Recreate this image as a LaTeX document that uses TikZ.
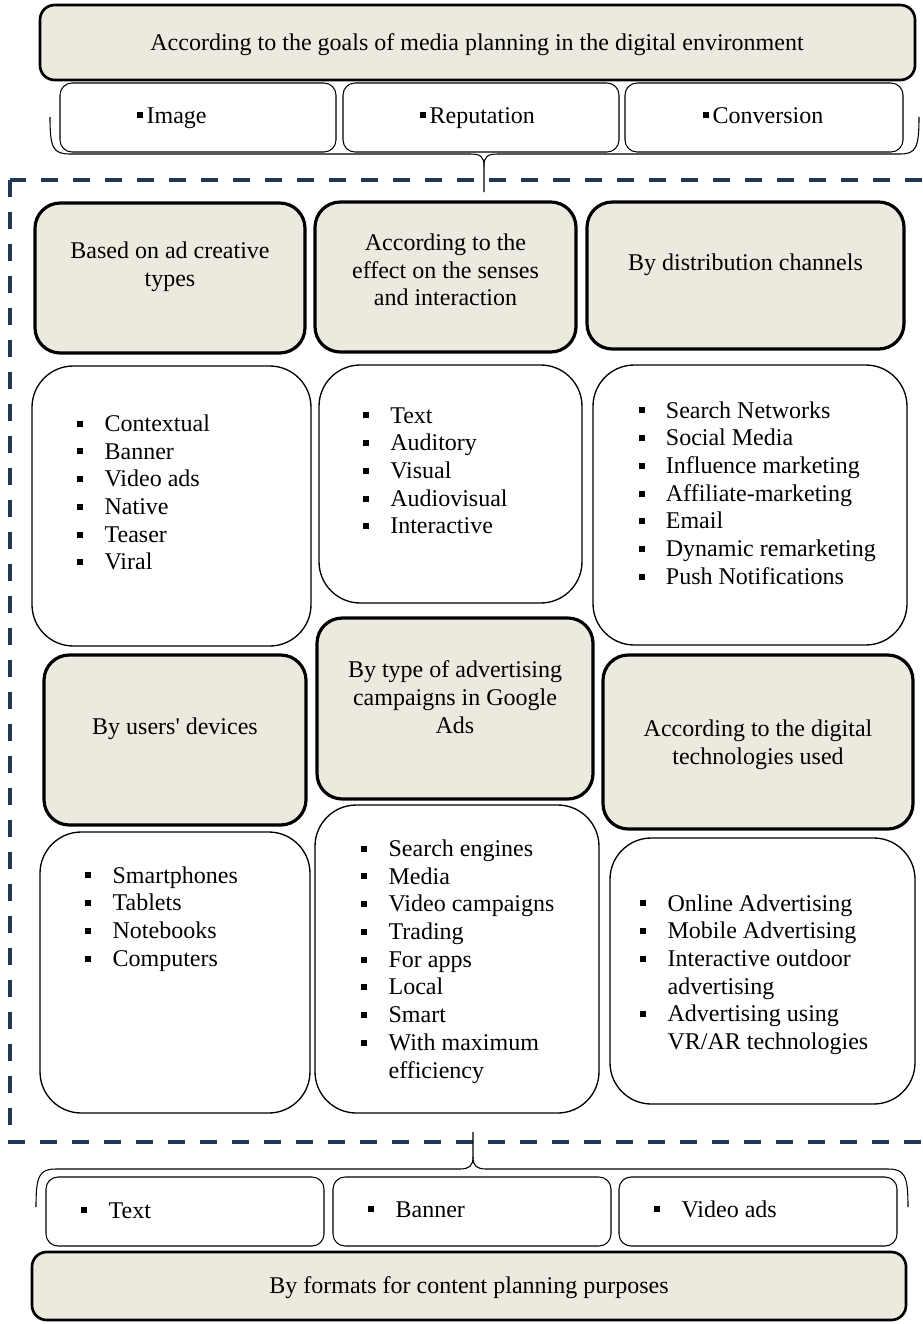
\documentclass[tikz,border=0pt]{standalone}
\usepackage{fontspec}
\setmainfont{Liberation Serif}[Ligatures=TeXOff]
\definecolor{headfill}{RGB}{236,233,223}
\definecolor{dashblue}{RGB}{31,56,86}
\newcommand{\bul}{\makebox[20.5pt][l]{\rule[3.5pt]{4.5pt}{4.5pt}}}
\newcommand{\ind}{\makebox[20.5pt]{}}
\newcommand{\sbul}{\rule[3.5pt]{4.5pt}{4.5pt}\hspace{2.5pt}}
\newcommand{\mkbox}[6]{\node[#2, minimum width={(#5-#3)*0.75pt}, minimum height={(#6-#4)*0.75pt}] (#1) at ({(#3+#5)/2},{(#4+#6)/2}) {};}
\begin{document}
\begin{tikzpicture}[x=0.75pt,y=-0.75pt, font=\fontsize{18}{20.8}\selectfont,
 bigbox/.style={draw, line width=2pt, fill=headfill, rounded corners=11pt, inner sep=0pt},
 headbox/.style={draw, line width=2.4pt, fill=headfill, rounded corners=19pt, inner sep=0pt},
 listbox/.style={draw, line width=1pt, fill=white, rounded corners=31pt, inner sep=0pt},
 subbox/.style={draw, line width=0.8pt, fill=white, rounded corners=9pt, inner sep=0pt},
 headtext/.style={align=center, inner sep=0pt},
 listtext/.style={align=left, anchor=north west, inner sep=0pt},
 itemtext/.style={anchor=base west, inner sep=0pt},
 titletext/.style={anchor=base, inner sep=0pt},
 brace/.style={line width=0.8pt},
 frame/.style={draw=dashblue, line width=3pt, dash pattern=on 12.5pt off 11.5pt}]
\useasboundingbox (0,0) rectangle (923,1324);
\begin{scope}
\clip (0,0) rectangle (923,1324);
\draw[frame] (10,180) rectangle (960,1142);
\end{scope}
% top block
\mkbox{top}{bigbox}{40}{5}{915}{80}
\node[titletext] (toptext) at (477,50) {According to the goals of media planning in the digital environment};
\mkbox{img}{subbox}{60}{83}{336}{152}
\mkbox{rep}{subbox}{343}{83}{619}{152}
\mkbox{conv}{subbox}{625}{83}{903}{152}
\node[itemtext] (imgt) at (137,123) {\sbul Image};
\node[itemtext] (rept) at (420,123) {\sbul Reputation};
\node[itemtext] (convt) at (703,123) {\sbul Conversion};
% top brace
\coordinate (tbtip) at (484,192);
\draw[brace] (50,117) .. controls (50,148) and (53,154) .. (70,154) -- (470,154) .. controls (480,154) and (484,156) .. (484,166) -- (tbtip);
\draw[brace] (919,117) .. controls (919,148) and (916,154) .. (900,154) -- (498,154) .. controls (488,154) and (484,156) .. (484,166);
% row 1 headings
\mkbox{h1}{headbox}{35}{203}{305}{353}
\mkbox{h2}{headbox}{315}{202}{576}{352}
\mkbox{h3}{headbox}{587}{202}{904}{349}
\node[headtext] (h1t) at (170,266.6) {Based on ad creative\\types};
\node[headtext] (h2t) at (445.5,270) {According to the\\effect on the senses\\and interaction};
\node[headtext] (h3t) at (745.5,264.3) {By distribution channels};
% row 1 lists
\mkbox{l1}{listbox}{32}{366}{311}{646}
\mkbox{l2}{listbox}{319}{365}{582}{603}
\mkbox{l3}{listbox}{593}{365}{907}{645}
\node[listtext] (l1t) at (77,413.7) {\rule{0pt}{13pt}\bul Contextual\\\bul Banner\\\bul Video ads\\\bul Native\\\bul Teaser\\\bul Viral};
\node[listtext] (l2t) at (362.7,405.4) {\rule{0pt}{13pt}\bul Text\\\bul Auditory\\\bul Visual\\\bul Audiovisual\\\bul Interactive};
\node[listtext] (l3t) at (638.3,400.4) {\rule{0pt}{13pt}\bul Search Networks\\\bul Social Media\\\bul Influence marketing\\\bul Affiliate-marketing\\\bul Email\\\bul Dynamic remarketing\\\bul Push Notifications};
% row 2 headings
\mkbox{h4}{headbox}{44}{655}{306}{825}
\mkbox{h5}{headbox}{317}{618}{593}{799}
\mkbox{h6}{headbox}{603}{655}{913}{829}
\node[headtext] (h4t) at (175,728.3) {By users' devices};
\node[headtext] (h5t) at (455,697.3) {By type of advertising\\campaigns in Google\\Ads};
\node[headtext] (h6t) at (758,744.6) {According to the digital\\technologies used};
% row 2 lists
\mkbox{l4}{listbox}{40}{832}{310}{1113}
\mkbox{l5}{listbox}{315}{805}{599}{1113}
\mkbox{l6}{listbox}{610}{838}{915}{1104}
\node[listtext] (l4t) at (85,865.4) {\rule{0pt}{13pt}\bul Smartphones\\\bul Tablets\\\bul Notebooks\\\bul Computers};
\node[listtext] (l5t) at (361,838.7) {\rule{0pt}{13pt}\bul Search engines\\\bul Media\\\bul Video campaigns\\\bul Trading\\\bul For apps\\\bul Local\\\bul Smart\\\bul With maximum\\\ind efficiency};
\node[listtext] (l6t) at (640,893.4) {\rule{0pt}{13pt}\bul Online Advertising\\\bul Mobile Advertising\\\bul Interactive outdoor\\\ind advertising\\\bul Advertising using\\\ind VR/AR technologies};
% bottom brace
\coordinate (bbtip) at (473,1132);
\draw[brace] (36,1207) .. controls (36,1176) and (39,1169) .. (56,1169) -- (460,1169) .. controls (469,1169) and (473,1166) .. (473,1157) -- (bbtip);
\draw[brace] (908,1207) .. controls (908,1176) and (905,1169) .. (888,1169) -- (486,1169) .. controls (477,1169) and (473,1166) .. (473,1157);
% bottom block
\mkbox{txt}{subbox}{46}{1177}{324}{1246}
\mkbox{ban}{subbox}{333}{1177}{611}{1246}
\mkbox{vid}{subbox}{619}{1177}{897}{1246}
\node[itemtext] (txtt) at (81,1218) {\bul Text};
\node[itemtext] (bant) at (368,1217) {\bul Banner};
\node[itemtext] (vidt) at (654,1217) {\bul Video ads};
\mkbox{bot}{bigbox}{32}{1252}{906}{1320}
\node[titletext] (bottext) at (469,1293) {By formats for content planning purposes};
\end{tikzpicture}
\end{document}
